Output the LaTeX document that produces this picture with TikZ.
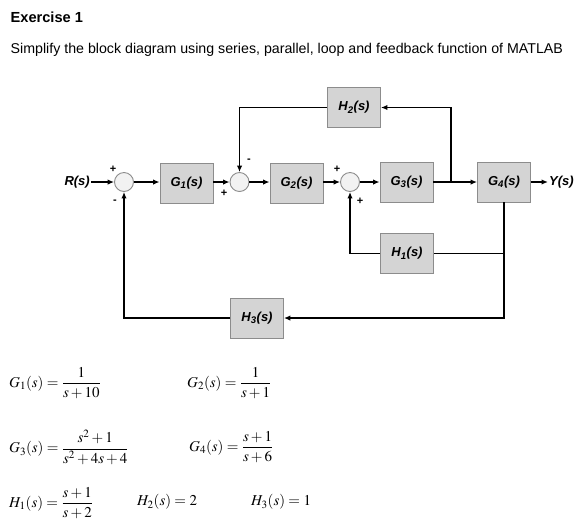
\documentclass[tikz,border=0pt]{standalone}
\usepackage[no-math]{fontspec}
\usepackage{mathptmx}
\usepackage{amsmath}
\setmainfont{Liberation Serif}
\setsansfont{Liberation Sans}
\usetikzlibrary{arrows.meta}
\definecolor{boxfill}{HTML}{D4D4D4}
\definecolor{boxline}{HTML}{8C8C8C}
\definecolor{sumfill}{HTML}{F2F2F2}
\begin{document}
\begin{tikzpicture}[x=1pt,y=-1pt,
  blk/.style={draw=boxline, fill=boxfill, line width=0.9pt, minimum width=53pt, minimum height=40pt, inner sep=0pt,
    font=\sffamily\bfseries\itshape\fontsize{13}{15}\selectfont},
  sumc/.style={circle, draw=boxline, fill=sumfill, line width=0.9pt, minimum size=19pt, inner sep=0pt},
  wire/.style={line width=1.6pt, black},
  arr/.style={wire, -{Latex[length=6.5pt,width=5.5pt]}},
  sig/.style={font=\sffamily\bfseries\fontsize{11}{12}\selectfont, inner sep=0pt},
  lbl/.style={font=\sffamily\bfseries\itshape\fontsize{13}{15}\selectfont, inner sep=1pt},
  eq/.style={anchor=west, inner sep=0pt, font=\fontsize{15}{18}\selectfont}
]
\useasboundingbox (0,0) rectangle (585,531);
\fill[white] (0,0) rectangle (585,531);

\node[anchor=base west, inner sep=0pt, font=\sffamily\bfseries\fontsize{14.6}{16}\selectfont] (title) at (10.5,22.5) {Exercise 1};
\node[anchor=base west, inner sep=0pt, font=\sffamily\fontsize{14.2}{16}\selectfont] (sub) at (10.5,53.5) {Simplify the block diagram using series, parallel, loop and feedback function of MATLAB};

% main path
\node[lbl, anchor=east] (R) at (91,182) {R(s)};
\node[sumc] (s1) at (124,182) {};
\node[blk] (G1) at (186.5,183) {G\textsubscript{1}(s)};
\node[sumc] (s2) at (239.5,182) {};
\node[blk] (G2) at (296.5,183) {G\textsubscript{2}(s)};
\node[sumc] (s3) at (350,182) {};
\node[blk] (G3) at (406.5,182) {G\textsubscript{3}(s)};
\node[blk] (G4) at (504,182) {G\textsubscript{4}(s)};
\node[lbl, anchor=west] (Y) at (548,182) {Y(s)};

\node[blk] (H2) at (354,107.5) {H\textsubscript{2}(s)};
\node[blk] (H1) at (407,253.5) {H\textsubscript{1}(s)};
\node[blk] (H3) at (257,318) {H\textsubscript{3}(s)};

\coordinate (b1) at (451,182);
\coordinate (b2) at (504,253.5);

\draw[arr] (R.east) -- (s1.west);
\draw[arr] (s1.east) -- (G1.west |- s1.east);
\draw[arr] (G1.east |- s2.west) -- (s2.west);
\draw[arr] (s2.east) -- (G2.west |- s2.east);
\draw[arr] (G2.east |- s3.west) -- (s3.west);
\draw[arr] (s3.east) -- (G3.west);
\draw[arr] (G3.east) -- (G4.west);
\draw[arr] (G4.east) -- (Y.west);
\draw[arr] (b1) |- (H2.east);
\draw[arr] (H2.west) -| (s2.north);
\draw[arr] (G4.south) |- (H3.east);
\draw[wire] (b2) -- (H1.east);
\draw[arr] (H1.west) -| (s3.south);
\draw[arr] (H3.west) -| (s1.south);

% signs
\node[sig] (p1) at (113,169) {+};
\node[sig] (m1) at (115,202) {-};
\node[sig] (m2) at (249,161) {-};
\node[sig] (p2) at (224,193) {+};
\node[sig] (p3) at (337,169) {+};
\node[sig] (p4) at (360,201) {+};

% equations
\node[eq] (e1) at (9,383) {$G_1(s)=\dfrac{1}{s+10}$};
\node[eq] (e2) at (187,383) {$G_2(s)=\dfrac{1}{s+1}$};
\node[eq] (e3) at (9,447) {$G_3(s)=\dfrac{s^2+1}{s^2+4s+4}$};
\node[eq] (e4) at (189,447) {$G_4(s)=\dfrac{s+1}{s+6}$};
\node[eq] (e5) at (9,503) {$H_1(s)=\dfrac{s+1}{s+2}$};
\node[eq] (e6) at (137,502) {$H_2(s)=2$};
\node[eq] (e7) at (251,502) {$H_3(s)=1$};
\end{tikzpicture}
\end{document}
